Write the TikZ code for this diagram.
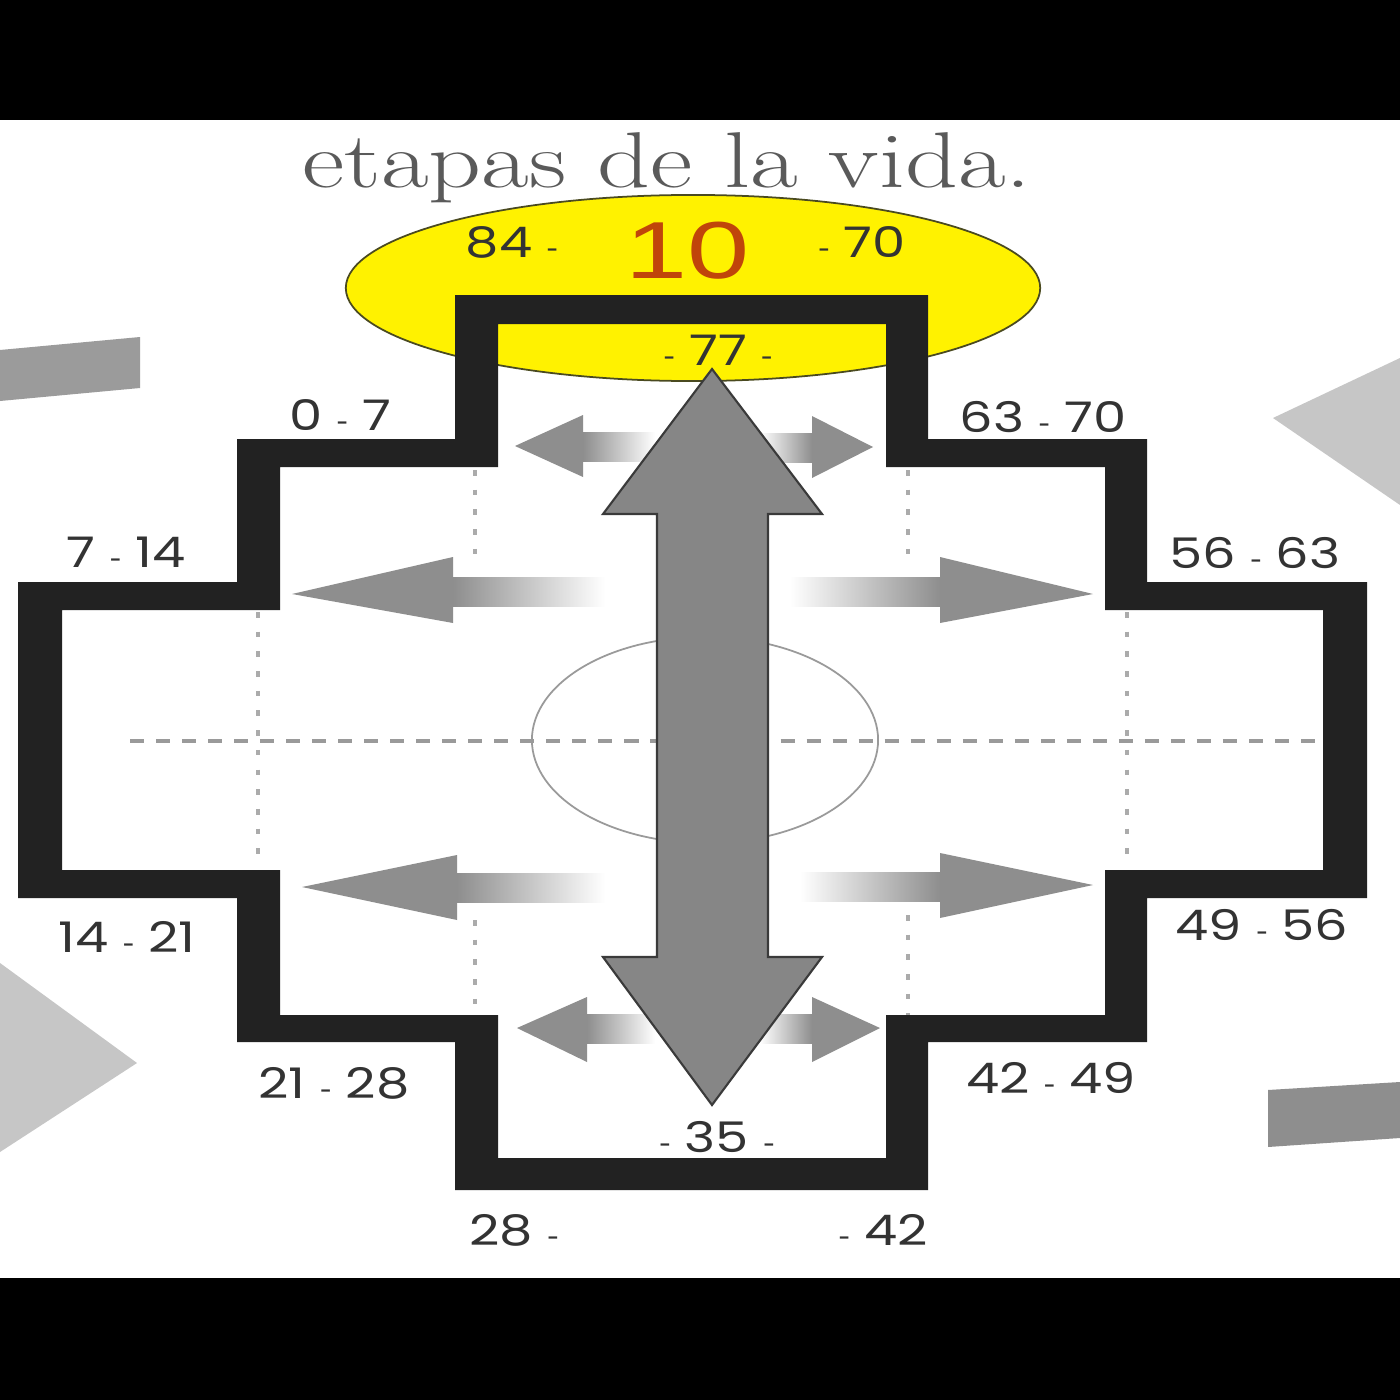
\documentclass[tikz,border=0pt]{standalone}
\usepackage{fontspec}
\usepackage{graphicx}
\newfontfamily\popp{Poppins}
\newfontfamily\arialf{Liberation Sans}
\definecolor{crossblk}{HTML}{222222}
\definecolor{labgray}{HTML}{333333}
\definecolor{titlegray}{HTML}{5A5A5A}
\definecolor{tencol}{HTML}{C0450A}
\definecolor{sunyel}{HTML}{FFF200}
\definecolor{sunline}{HTML}{4A4A20}
\definecolor{arrgray}{HTML}{868686}
\definecolor{arrline}{HTML}{3A3A3A}
\definecolor{headgray}{HTML}{8E8E8E}
\definecolor{guide}{HTML}{9A9A9A}
\definecolor{dotg}{HTML}{ABABAB}
\definecolor{decodark}{HTML}{9B9B9B}
\definecolor{decolight}{HTML}{C6C6C6}
\definecolor{decomid}{HTML}{8E8E8E}
\newcommand\wx[1]{\scalebox{1.25}[1]{#1}}
\newcommand\hy{{\arialf\fontsize{8}{8}\selectfont -}}
\tikzset{
  lab/.style={font=\popp\fontsize{12}{13}\selectfont, text=labgray, inner sep=0pt, anchor=base},
  smallhead/.style={fill=headgray, draw=none},
  dotline/.style={draw=dotg, line width=1.2pt, dash pattern=on 1.6pt off 4pt},
  dashline/.style={draw=guide, line width=1.1pt, dash pattern=on 4pt off 3.4pt},
}
\begin{document}
\begin{tikzpicture}[x=0.01cm,y=-0.01cm]
\useasboundingbox (0,0) rectangle (1400,1400);
% background
\fill[white] (0,0) rectangle (1400,1400);
\fill[black] (0,0) rectangle (1400,120);
\fill[black] (0,1278) rectangle (1400,1400);
% decorative margin shapes
\fill[decodark] (0,350) -- (140,337) -- (140,388) -- (0,401) -- cycle;
\fill[decolight] (1273,418) -- (1400,358) -- (1400,505) -- cycle;
\fill[decolight] (0,963) -- (137,1063) -- (0,1152) -- cycle;
\fill[decomid] (1268,1090) -- (1400,1082) -- (1400,1138) -- (1268,1147) -- cycle;
% title
\node[font=\fontsize{22.5}{24}\selectfont, text=titlegray, inner sep=0pt, anchor=base] (title) at (667,188) {\scalebox{1.31}[1]{etapas de la vida.}};
% yellow ellipse
\fill[sunyel, draw=sunline, line width=0.5pt] (693,288) ellipse [x radius=3.47cm, y radius=0.93cm];
% guides
\draw[guide, line width=0.5pt] (705,740) ellipse [x radius=1.73cm, y radius=1.03cm];
\draw[dashline] (130,741) -- (1322,741);
\draw[dotline] (475,470) -- (475,560);
\draw[dotline] (475,920) -- (475,1015);
\draw[dotline] (908,470) -- (908,560);
\draw[dotline] (908,915) -- (908,1015);
\draw[dotline] (258,612) -- (258,868);
\draw[dotline] (1127,612) -- (1127,866);
% small outward arrows: row 1
\shade[left color=headgray, right color=white] (583,432) rectangle (655,461);
\fill[smallhead] (515,446) -- (583,415) -- (583,477) -- cycle;
\shade[left color=white, right color=headgray] (760,433) rectangle (812,462);
\fill[smallhead] (873,447) -- (812,416) -- (812,478) -- cycle;
% row 2
\shade[left color=headgray, right color=white] (453,577) rectangle (605,606);
\fill[smallhead] (292,594) -- (453,557) -- (453,623) -- cycle;
\shade[left color=white, right color=headgray] (790,577) rectangle (940,606);
\fill[smallhead] (1093,594) -- (940,557) -- (940,623) -- cycle;
% row 3
\shade[left color=headgray, right color=white] (457,873) rectangle (605,902);
\fill[smallhead] (302,887) -- (457,855) -- (457,920) -- cycle;
\shade[left color=white, right color=headgray] (800,872) rectangle (940,901);
\fill[smallhead] (1093,885) -- (940,853) -- (940,918) -- cycle;
% row 4
\shade[left color=headgray, right color=white] (587,1014) rectangle (655,1043);
\fill[smallhead] (517,1028) -- (587,997) -- (587,1062) -- cycle;
\shade[left color=white, right color=headgray] (760,1014) rectangle (812,1043);
\fill[smallhead] (880,1028) -- (812,997) -- (812,1062) -- cycle;
% big vertical double arrow
\filldraw[fill=arrgray, draw=arrline, line width=0.6pt, line join=miter]
  (712,369) -- (822,514) -- (768,514) -- (768,957) -- (822,957) -- (712,1105)
  -- (603,957) -- (657,957) -- (657,514) -- (603,514) -- cycle;
% chakana outline
\fill[crossblk, even odd rule]
  (455,295) -- (928,295) -- (928,439) -- (1147,439) -- (1147,582) -- (1367,582)
  -- (1367,898) -- (1147,898) -- (1147,1042) -- (928,1042) -- (928,1190)
  -- (455,1190) -- (455,1042) -- (237,1042) -- (237,898) -- (18,898)
  -- (18,582) -- (237,582) -- (237,439) -- (455,439) -- cycle
  (498,324) -- (886,324) -- (886,467) -- (1105,467) -- (1105,610) -- (1323,610)
  -- (1323,870) -- (1105,870) -- (1105,1015) -- (886,1015) -- (886,1158)
  -- (498,1158) -- (498,1015) -- (280,1015) -- (280,870) -- (62,870)
  -- (62,610) -- (280,610) -- (280,467) -- (498,467) -- cycle;
% labels
\node[font=\arialf\fontsize{23}{24}\selectfont, text=tencol, inner sep=0pt, anchor=base] (ten) at (688,278) {\scalebox{1.38}[1]{10}};
\node[lab] (l84) at (512,258) {\wx{84 \hy}};
\node[lab] (l70t) at (862,258) {\wx{\hy\ 70}};
\node[lab] (l77) at (718,365) {\wx{\hy\ 77 \hy}};
\node[lab] (l07) at (340,430) {\wx{0 \hy\ 7}};
\node[lab] (l714) at (126,567) {\wx{7 \hy\ 14}};
\node[lab] (l6370) at (1043,432) {\wx{63 \hy\ 70}};
\node[lab] (l5663) at (1255,568) {\wx{56 \hy\ 63}};
\node[lab] (l1421) at (127,952) {\wx{14 \hy\ 21}};
\node[lab] (l2128) at (334,1098) {\wx{21 \hy\ 28}};
\node[lab] (l4249) at (1051,1093) {\wx{42 \hy\ 49}};
\node[lab] (l4956) at (1262,940) {\wx{49 \hy\ 56}};
\node[lab] (l28) at (514,1245) {\wx{28 \hy}};
\node[lab] (l42) at (883,1245) {\wx{\hy\ 42}};
\node[lab] (l35) at (717,1152) {\wx{\hy\ 35 \hy}};
\end{tikzpicture}
\end{document}
